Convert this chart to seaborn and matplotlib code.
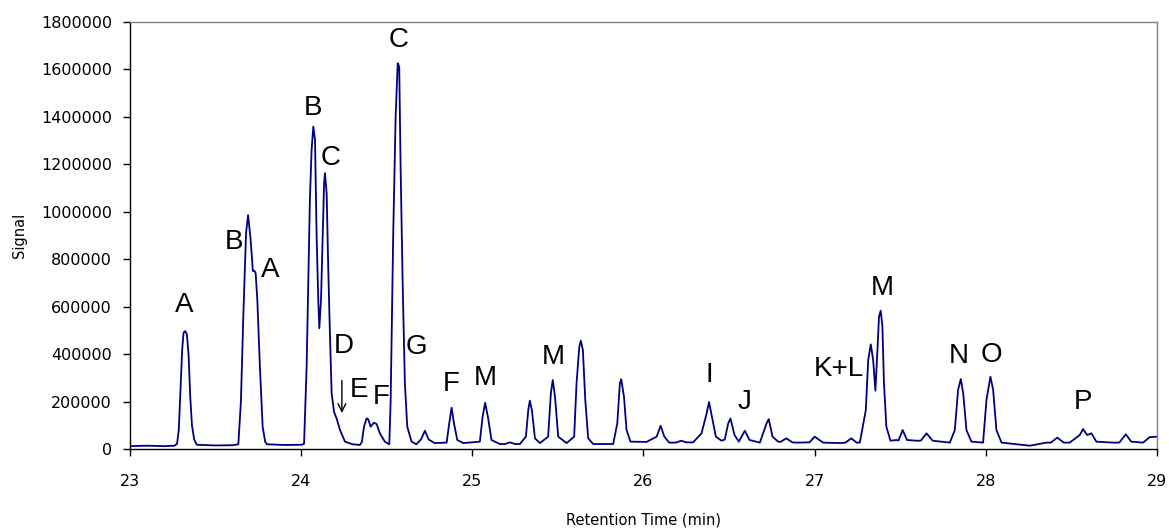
import numpy as np
import pandas as pd
import matplotlib
matplotlib.use("Agg")
import matplotlib.pyplot as plt
import seaborn as sns
from matplotlib.ticker import FuncFormatter

# trace (time in min, signal in thousands)
time_min = [
    23.00, 23.10, 23.20, 23.26, 23.275, 23.285, 23.295, 23.305, 23.313, 23.322,
    23.332, 23.342, 23.352, 23.362, 23.375, 23.39, 23.50, 23.60, 23.633, 23.648,
    23.662, 23.678, 23.69, 23.705, 23.718, 23.726, 23.734, 23.744, 23.759, 23.775,
    23.79, 23.80, 23.90, 24.003, 24.017, 24.032, 24.051, 24.061, 24.071, 24.081,
    24.09, 24.10, 24.106, 24.116, 24.126, 24.134, 24.139, 24.149, 24.158, 24.168,
    24.178, 24.192, 24.207, 24.227, 24.256, 24.30, 24.343, 24.355, 24.367, 24.382,
    24.392, 24.406, 24.425, 24.441, 24.46, 24.489, 24.515, 24.523, 24.538, 24.552,
    24.564, 24.573, 24.581, 24.593, 24.606, 24.62, 24.645, 24.673, 24.70, 24.723,
    24.745, 24.78, 24.85, 24.865, 24.879, 24.893, 24.912, 24.947, 25.044, 25.06,
    25.075, 25.091, 25.112, 25.161, 25.19, 25.22, 25.25, 25.278, 25.313, 25.327,
    25.336, 25.348, 25.366, 25.395, 25.443, 25.459, 25.47, 25.483, 25.502, 25.551,
    25.595, 25.609, 25.625, 25.634, 25.646, 25.66, 25.677, 25.706, 25.823, 25.847,
    25.862, 25.87, 25.886, 25.901, 25.924, 26.018, 26.077, 26.10, 26.122, 26.15,
    26.19, 26.22, 26.25, 26.29, 26.339, 26.369, 26.383, 26.40, 26.423, 26.456,
    26.475, 26.495, 26.508, 26.532, 26.557, 26.592, 26.62, 26.68, 26.719, 26.732,
    26.754, 26.787, 26.80, 26.835, 26.87, 26.894, 26.97, 27.00, 27.05, 27.147,
    27.18, 27.214, 27.245, 27.264, 27.299, 27.313, 27.328, 27.342, 27.355, 27.367,
    27.376, 27.386, 27.396, 27.405, 27.419, 27.443, 27.478, 27.49, 27.514, 27.54,
    27.595, 27.62, 27.654, 27.69, 27.79, 27.819, 27.838, 27.854, 27.868, 27.887,
    27.916, 27.984, 28.004, 28.027, 28.043, 28.062, 28.092, 28.257, 28.354, 28.38,
    28.418, 28.455, 28.49, 28.549, 28.568, 28.592, 28.617, 28.646, 28.744, 28.78,
    28.818, 28.85, 28.919, 28.957, 29.00,
]
signal_k = [
    12, 14, 12, 14, 22, 80, 250, 420, 490, 497,
    485, 400, 220, 100, 40, 18, 15, 16, 20, 200,
    558, 910, 986, 881, 750, 752, 742, 628, 347, 94,
    30, 20, 17, 18, 22, 347, 1050, 1261, 1359, 1303,
    910, 628, 509, 628, 910, 1120, 1163, 1078, 769, 488,
    235, 157, 129, 80, 31, 20, 17, 30, 94, 129,
    125, 94, 111, 105, 66, 31, 20, 207, 910, 1401,
    1626, 1612, 1190, 699, 277, 94, 31, 20, 40, 77,
    40, 25, 27, 108, 174, 108, 38, 25, 31, 136,
    195, 136, 38, 21, 21, 28, 21, 21, 52, 164,
    204, 164, 45, 25, 52, 235, 291, 221, 52, 25,
    52, 277, 431, 457, 417, 207, 45, 21, 21, 108,
    277, 294, 221, 80, 31, 30, 52, 98, 52, 27,
    27, 35, 28, 28, 66, 150, 198, 136, 52, 35,
    40, 108, 129, 59, 31, 77, 38, 27, 108, 126,
    52, 31, 30, 45, 28, 27, 28, 52, 27, 25,
    27, 45, 27, 27, 164, 375, 441, 375, 246, 417,
    558, 583, 516, 277, 94, 35, 38, 36, 80, 38,
    35, 35, 66, 35, 27, 80, 249, 295, 235, 80,
    31, 27, 207, 305, 249, 80, 27, 14, 27, 27,
    48, 27, 27, 59, 84, 59, 66, 31, 27, 27,
    62, 31, 27, 50, 52,
]

# peak labels
label_text = ["A", "B", "A", "B", "C", "D", "E", "F", "C", "G",
              "F", "M", "M", "I", "J", "K+L", "M", "N", "O", "P"]
label_t = [23.315, 23.607, 23.818, 24.069, 24.174, 24.25, 24.338, 24.466, 24.571, 24.676,
           24.875, 25.074, 25.471, 26.382, 26.592, 27.141, 27.393, 27.842, 28.035, 28.567]
label_k = [607, 873, 755, 1438, 1227, 434, 249, 219, 1724, 430,
           274, 299, 388, 312, 198, 337, 679, 392, 396, 198]

df = pd.DataFrame({"time": time_min, "signal": np.array(signal_k) * 1000})

sns.set_style("ticks")
plt.rcParams["font.family"] = ["DejaVu Sans"]
plt.rcParams["text.color"] = "black"
plt.rcParams["axes.labelcolor"] = "black"
plt.rcParams["xtick.color"] = "black"
plt.rcParams["ytick.color"] = "black"

fig = plt.figure(figsize=(11.69, 5.29), dpi=100)
ax = fig.add_axes([0.1112, 0.1512, 0.8785, 0.8072])

sns.lineplot(data=df, x="time", y="signal", ax=ax, color="#000080",
             linewidth=1.3, estimator=None, sort=False)

for txt, tx, ty in zip(label_text, label_t, label_k):
    ax.text(tx, ty * 1000, txt, ha="center", va="center", fontsize=20,
            family="Liberation Sans", color="black")

# arrow pointing at D
ax.annotate("", xy=(24.238, 140000), xytext=(24.238, 300000),
            arrowprops=dict(arrowstyle="->", color="black", lw=1, mutation_scale=14))

ax.set_xlim(23, 29)
ax.set_ylim(0, 1800000)
ax.set_xticks(range(23, 30))
ax.set_yticks(range(0, 1800001, 200000))
ax.yaxis.set_major_formatter(FuncFormatter(lambda v, p: f"{int(v)}"))
ax.tick_params(axis="both", direction="out", length=5, width=1, color="black",
               labelcolor="black", labelsize=11.5)
ax.tick_params(axis="x", pad=13)
ax.tick_params(axis="y", pad=8)

for side in ["left", "bottom"]:
    ax.spines[side].set_color("black")
    ax.spines[side].set_linewidth(1)
for side in ["top", "right"]:
    ax.spines[side].set_visible(True)
    ax.spines[side].set_color("#808080")
    ax.spines[side].set_linewidth(1)

ax.set_xlabel("Retention Time (min)", fontsize=10.5, labelpad=17, color="black")
ax.set_ylabel("Signal", fontsize=10.5, labelpad=10, color="black")

fig.savefig("out.png", dpi=100)
